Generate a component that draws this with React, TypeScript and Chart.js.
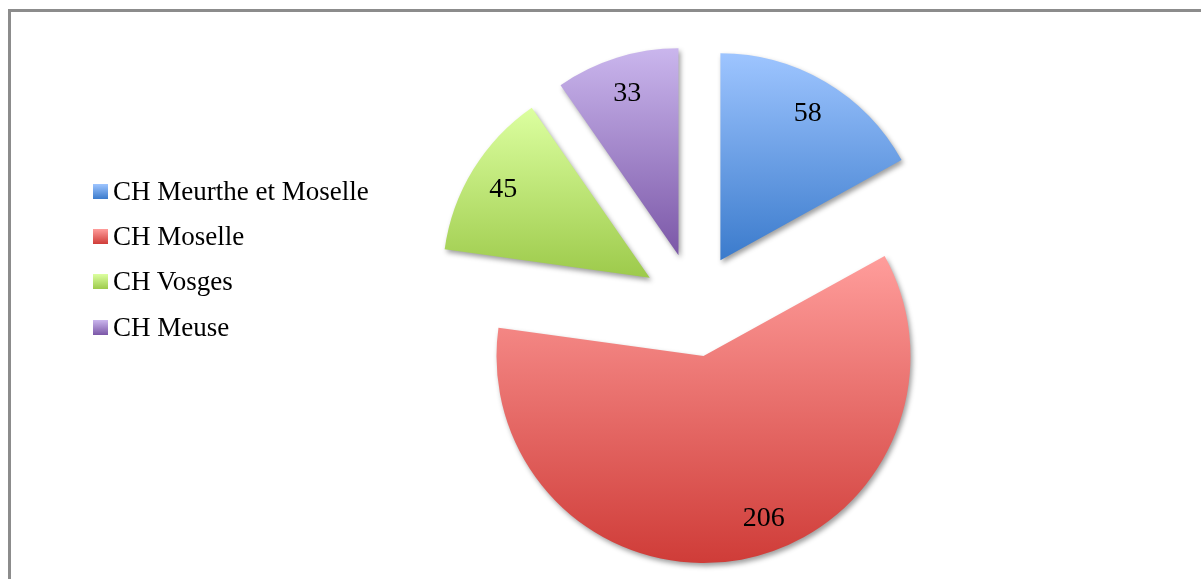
import React, { useEffect, useRef } from "react";
import { Chart, registerables } from "chart.js";

Chart.register(...registerables);

// ---- data ----
const categories = ["CH Meurthe et Moselle", "CH Moselle", "CH Vosges", "CH Meuse"];
const values = [58, 206, 45, 33];

// ---- styles ----
const gradientTops = ["#9ec5ff", "#ff9d9b", "#dcffa0", "#cab6ed"];
const gradientBottoms = ["#3b7bcc", "#cf3c38", "#9dca4b", "#7b57a7"];
const EXPLODE = 52;
const LABEL_RATIO = 0.83;
const LABEL_SHIFT_DEG = [0, -10, 0, 0];
const FONT_FAMILY = '"Liberation Serif", "Times New Roman", serif';
const LABEL_FONT_SIZE = 28;
const LEGEND_FONT_SIZE = 27;
const W = 1201;
const H = 579;

const explodedPie = {
  id: "explodedPie",
  beforeDatasetDraw(chart: any, args: any) {
    const ctx: CanvasRenderingContext2D = chart.ctx;
    const meta = args.meta;
    meta.data.forEach((arc: any, i: number) => {
      const { x, y, startAngle, endAngle, outerRadius } = arc.getProps(
        ["x", "y", "startAngle", "endAngle", "outerRadius"],
        true
      );
      const mid = (startAngle + endAngle) / 2;
      let minY = y;
      let maxY = y;
      const n = 90;
      for (let k = 0; k <= n; k++) {
        const a = startAngle + ((endAngle - startAngle) * k) / n;
        const py = y + Math.sin(a) * outerRadius;
        if (py < minY) minY = py;
        if (py > maxY) maxY = py;
      }
      const g = ctx.createLinearGradient(0, minY, 0, maxY);
      g.addColorStop(0, gradientTops[i % gradientTops.length]);
      g.addColorStop(1, gradientBottoms[i % gradientBottoms.length]);
      const orig = arc.options;
      arc.options = { ...orig, backgroundColor: g, offset: 0, borderWidth: 0 };
      ctx.save();
      ctx.translate(Math.cos(mid) * EXPLODE, Math.sin(mid) * EXPLODE);
      ctx.shadowColor = "rgba(0,0,0,0.38)";
      ctx.shadowBlur = 5;
      ctx.shadowOffsetX = 2;
      ctx.shadowOffsetY = 3;
      arc.draw(ctx);
      ctx.restore();
      arc.options = orig;
    });
    return false;
  },
  afterDatasetsDraw(chart: any) {
    const ctx: CanvasRenderingContext2D = chart.ctx;
    const meta = chart.getDatasetMeta(0);
    const data = chart.data.datasets[0].data;
    ctx.save();
    ctx.fillStyle = "#000";
    ctx.font = `${LABEL_FONT_SIZE}px ${FONT_FAMILY}`;
    ctx.textAlign = "center";
    ctx.textBaseline = "alphabetic";
    meta.data.forEach((arc: any, i: number) => {
      const { x, y, startAngle, endAngle, outerRadius } = arc.getProps(
        ["x", "y", "startAngle", "endAngle", "outerRadius"],
        true
      );
      const mid = (startAngle + endAngle) / 2;
      const tipX = x + Math.cos(mid) * EXPLODE;
      const tipY = y + Math.sin(mid) * EXPLODE;
      const la = mid + (LABEL_SHIFT_DEG[i] * Math.PI) / 180;
      const lx = tipX + Math.cos(la) * outerRadius * LABEL_RATIO;
      const ly = tipY + Math.sin(la) * outerRadius * LABEL_RATIO;
      ctx.fillText(String(data[i]), lx, ly + LABEL_FONT_SIZE * 0.33);
    });
    ctx.restore();
  },
};

export default function App() {
  const canvasRef = useRef<HTMLCanvasElement | null>(null);

  useEffect(() => {
    if (!canvasRef.current) return;
    const chart = new Chart(canvasRef.current, {
      type: "pie",
      data: {
        labels: categories,
        datasets: [
          {
            data: values,
            backgroundColor: gradientBottoms,
            borderWidth: 0,
            offset: 0,
            hoverOffset: 0,
            clip: false as any,
          },
        ],
      },
      options: {
        responsive: false,
        animation: false,
        events: [],
        devicePixelRatio: 1,
        layout: { padding: { left: 487, right: 300, top: 98, bottom: 67 } },
        plugins: {
          legend: { display: false },
          tooltip: { enabled: false },
          title: { display: false },
        },
      },
      plugins: [explodedPie],
    });
    return () => chart.destroy();
  }, []);

  return (
    <div>
      <div
        style={{
          position: "fixed",
          left: 8,
          top: 9,
          right: -20,
          bottom: -20,
          borderTop: "3px solid #8c8c8c",
          borderLeft: "3px solid #8c8c8c",
          background: "#fff",
        }}
      />
      <canvas
        ref={canvasRef}
        width={W}
        height={H}
        style={{ position: "fixed", left: 0, top: 0, width: W, height: H }}
      />
      <div
        style={{
          position: "fixed",
          left: 93,
          top: 168.5,
          fontFamily: FONT_FAMILY,
          fontSize: LEGEND_FONT_SIZE,
          color: "#000",
        }}
      >
        {categories.map((c, i) => (
          <div
            key={c}
            style={{ display: "flex", alignItems: "center", height: 45.3, lineHeight: "45px", whiteSpace: "nowrap" }}
          >
            <span
              style={{
                display: "inline-block",
                width: 15,
                height: 15,
                marginRight: 5,
                background: `linear-gradient(to bottom, ${gradientTops[i]}, ${gradientBottoms[i]})`,
              }}
            />
            <span>{c}</span>
          </div>
        ))}
      </div>
    </div>
  );
}
